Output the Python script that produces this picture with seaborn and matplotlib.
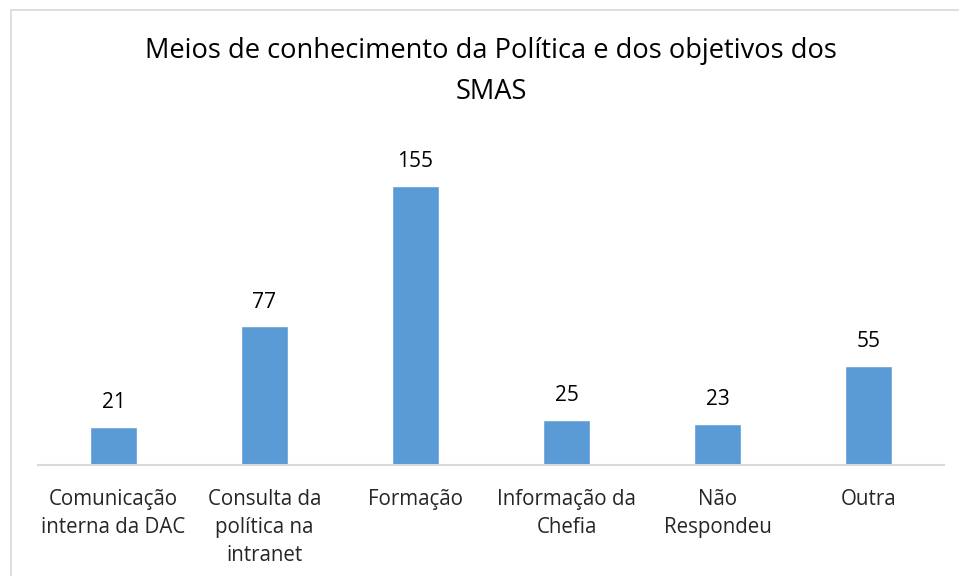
import matplotlib
matplotlib.use("Agg")
import matplotlib.pyplot as plt
import seaborn as sns
import pandas as pd
from matplotlib.patches import Rectangle

categories = ["Comunicação\ninterna da DAC", "Consulta da\npolítica na\nintranet", "Formação",
              "Informação da\nChefia", "Não\nRespondeu", "Outra"]
values = [21, 77, 155, 25, 23, 55]
title = "Meios de conhecimento da Política e dos objetivos dos\nSMAS"

sns.set_theme(style="white")
plt.rcParams['font.family'] = ['Open Sans', 'DejaVu Sans']

df = pd.DataFrame({"cat": categories, "val": values})

fig = plt.figure(figsize=(9.59, 5.76), dpi=100)
W, H = 959, 576
ax = fig.add_axes([38 / W, 1 - 465 / H, (944 - 38) / W, (465 - 141) / H])

sns.barplot(data=df, x="cat", y="val", color="#5B9BD5", saturation=1, width=0.31, ax=ax)
ax.set_ylim(0, 180)
ax.set_xlim(-0.5, len(categories) - 0.5)

for i, v in enumerate(values):
    ax.annotate(str(v), (i, v), xytext=(0, 10), textcoords="offset points",
                ha="center", va="bottom", fontsize=15, color="#000000")

ax.set_yticks([])
ax.set_xlabel("")
ax.set_ylabel("")
for s in ["top", "right", "left"]:
    ax.spines[s].set_visible(False)
ax.spines["bottom"].set_color("#D9D9D9")
ax.spines["bottom"].set_linewidth(1.5)
ax.tick_params(axis="x", length=0, pad=17, labelsize=14.8, colors="#262626")
plt.setp(ax.get_xticklabels(), linespacing=1.45)

fig.text(491 / W, 1 - 71.5 / H, title, ha="center", va="center", fontsize=19.6,
         color="#000000", linespacing=1.6)

fig.patches.append(Rectangle((10.5 / W, -0.1), 1.2, 1 - 10 / H + 0.1, transform=fig.transFigure,
                             fill=False, edgecolor="#D9D9D9", linewidth=1.2))

fig.savefig("out.png", dpi=100)
